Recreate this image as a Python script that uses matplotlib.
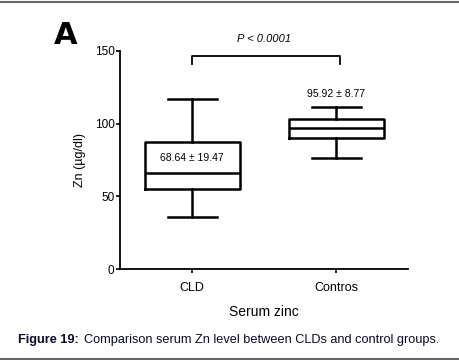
import matplotlib
matplotlib.use("Agg")
import matplotlib.pyplot as plt
from matplotlib.lines import Line2D

# Box summary values (Zn, ug/dl)
groups = ["CLD", "Contros"]
whisker_low = [36.1, 76.1]
q1 = [54.9, 89.9]
medians = [66.3, 97.0]
q3 = [87.6, 103.0]
whisker_high = [117.2, 111.3]
mean_sd_labels = ["68.64 \u00b1 19.47", "95.92 \u00b1 8.77"]
p_text = "P < 0.0001"

plt.rcParams['font.family'] = ['Liberation Sans Narrow', 'Liberation Sans', 'DejaVu Sans']

fig = plt.figure(figsize=(4.6, 3.6), dpi=100)
ax = fig.add_axes([0.261, 0.252, 0.626, 0.607])

stats = []
for i, name in enumerate(groups):
    stats.append(dict(label=name, whislo=whisker_low[i], q1=q1[i],
                      med=medians[i], q3=q3[i], whishi=whisker_high[i],
                      fliers=[]))

lw = 1.8
ax.bxp(stats, positions=[1, 2], widths=0.66, showfliers=False,
       boxprops=dict(color='black', linewidth=lw),
       medianprops=dict(color='black', linewidth=lw),
       whiskerprops=dict(color='black', linewidth=lw),
       capprops=dict(color='black', linewidth=lw),
       capwidths=0.34)

ax.set_xlim(0.5, 2.5)
ax.set_ylim(0, 150)
ax.set_yticks([0, 50, 100, 150])
ax.set_xticks([1, 2])
ax.set_xticklabels(groups, fontsize=9)
ax.tick_params(axis='y', labelsize=8.5, length=3, width=1.2, pad=1)
ax.tick_params(axis='x', length=3, width=1.2, pad=6)
for s in ['top', 'right']:
    ax.spines[s].set_visible(False)
for s in ['left', 'bottom']:
    ax.spines[s].set_linewidth(1.3)

ax.set_ylabel("Zn (\u00b5g/dl)", fontsize=9, labelpad=6)
ax.set_xlabel("Serum zinc", fontsize=10, labelpad=8)

# mean +/- sd labels
ax.text(1, 76.5, mean_sd_labels[0], ha='center', va='center', fontsize=7.5)
ax.text(2, 120.5, mean_sd_labels[1], ha='center', va='center', fontsize=7.5)

# significance bracket
ax.plot([1, 1, 2.03, 2.03], [141, 146.3, 146.3, 141], color='black',
        linewidth=1.3, clip_on=False)
ax.text(1.5, 158, p_text, ha='center', va='center', fontsize=8,
        style='italic')

fig.text(0.117, 0.9, "A", fontsize=22, fontweight='bold',
         family='DejaVu Sans', ha='left', va='center')

# caption
fig.text(0.04, 0.055, "Figure 19:", fontsize=9.2, fontweight='bold',
         color='#0a0a2a', family='Liberation Sans', ha='left', va='center')
fig.text(0.182, 0.055,
         "Comparison serum Zn level between CLDs and control groups.",
         fontsize=9.2, color='#0a0a2a', family='Liberation Sans',
         ha='left', va='center')

# frame lines top and bottom
fig.add_artist(Line2D([0, 1], [0.995, 0.995], color='#666666', linewidth=1.5))
fig.add_artist(Line2D([0, 1], [0.004, 0.004], color='#666666', linewidth=1.5))

fig.savefig("out.png", dpi=100)
